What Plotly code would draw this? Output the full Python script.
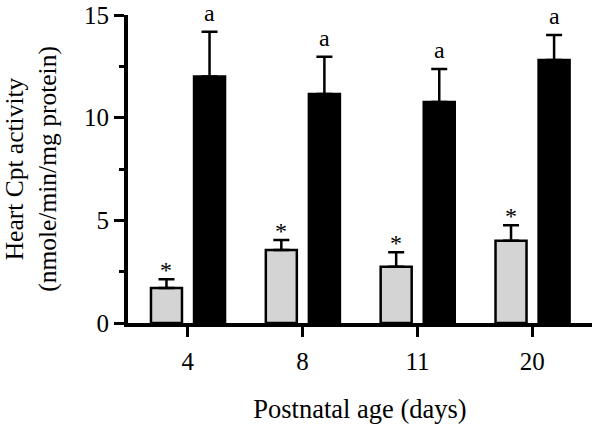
import plotly.graph_objects as go

categories = ["4", "8", "11", "20"]
gray_vals = [1.70, 3.56, 2.74, 4.01]
gray_err = [0.43, 0.48, 0.70, 0.75]
black_vals = [12.0, 11.15, 10.76, 12.81]
black_err = [2.19, 1.82, 1.61, 1.22]
gray_marks = ["*", "*", "*", "*"]
black_marks = ["a", "a", "a", "a"]

xpos = list(range(len(categories)))
BW = 0.27
G_OFF = -0.32
B_OFF = 0.055
FONT = "Liberation Serif"

fig = go.Figure()
fig.add_trace(go.Bar(
    x=xpos, y=gray_vals, width=BW, offset=G_OFF,
    marker=dict(color="#d4d4d4", line=dict(color="black", width=2.5)),
    error_y=dict(type="data", array=gray_err, arrayminus=[0]*4, symmetric=False,
                 color="black", thickness=2.5, width=8),
    showlegend=False,
))
fig.add_trace(go.Bar(
    x=xpos, y=black_vals, width=BW, offset=B_OFF,
    marker=dict(color="black", line=dict(color="black", width=2.5)),
    error_y=dict(type="data", array=black_err, arrayminus=[0]*4, symmetric=False,
                 color="black", thickness=2.5, width=8),
    showlegend=False,
))

annotations = []
for i, v, e, m in zip(xpos, gray_vals, gray_err, gray_marks):
    annotations.append(dict(x=i + G_OFF + BW / 2, y=v + e, xref="x", yref="y", text=m,
                            showarrow=False, yanchor="bottom", yshift=-6,
                            font=dict(family=FONT, size=24, color="black")))
for i, v, e, m in zip(xpos, black_vals, black_err, black_marks):
    annotations.append(dict(x=i + B_OFF + BW / 2, y=v + e, xref="x", yref="y", text=m,
                            showarrow=False, yanchor="bottom", yshift=4,
                            font=dict(family=FONT, size=24, color="black")))

fig.update_layout(
    width=600, height=431,
    margin=dict(l=128, r=8, t=15, b=108),
    paper_bgcolor="white", plot_bgcolor="white",
    barmode="overlay",
    font=dict(family=FONT, size=25, color="black"),
    annotations=annotations,
    xaxis=dict(
        range=[-0.52, 3.52], tickvals=xpos, ticktext=categories,
        showline=True, linecolor="black", linewidth=4,
        ticks="outside", ticklen=10, tickwidth=3, tickcolor="black",
        ticklabelstandoff=3,
        showgrid=False, zeroline=False, automargin=False,
        title=dict(text="Postnatal age (days)", standoff=26,
                   font=dict(family=FONT, size=26.5, color="black")),
    ),
    yaxis=dict(
        range=[0, 15], tickvals=[0, 5, 10, 15], ticklabeloverflow="allow",
        showline=True, linecolor="black", linewidth=4,
        ticks="outside", ticklen=10, tickwidth=3, tickcolor="black",
        minor=dict(tickvals=[2.5, 7.5, 12.5], ticks="outside", ticklen=5, tickwidth=3, tickcolor="black"),
        showgrid=False, zeroline=False, automargin=False,
        title=dict(text="Heart Cpt activity<br>(nmole/min/mg protein)", standoff=28,
                   font=dict(family=FONT, size=25.5, color="black")),
    ),
)

fig.write_html("out.html", config={"displayModeBar": False},
               post_script="document.body.style.margin='0';")
